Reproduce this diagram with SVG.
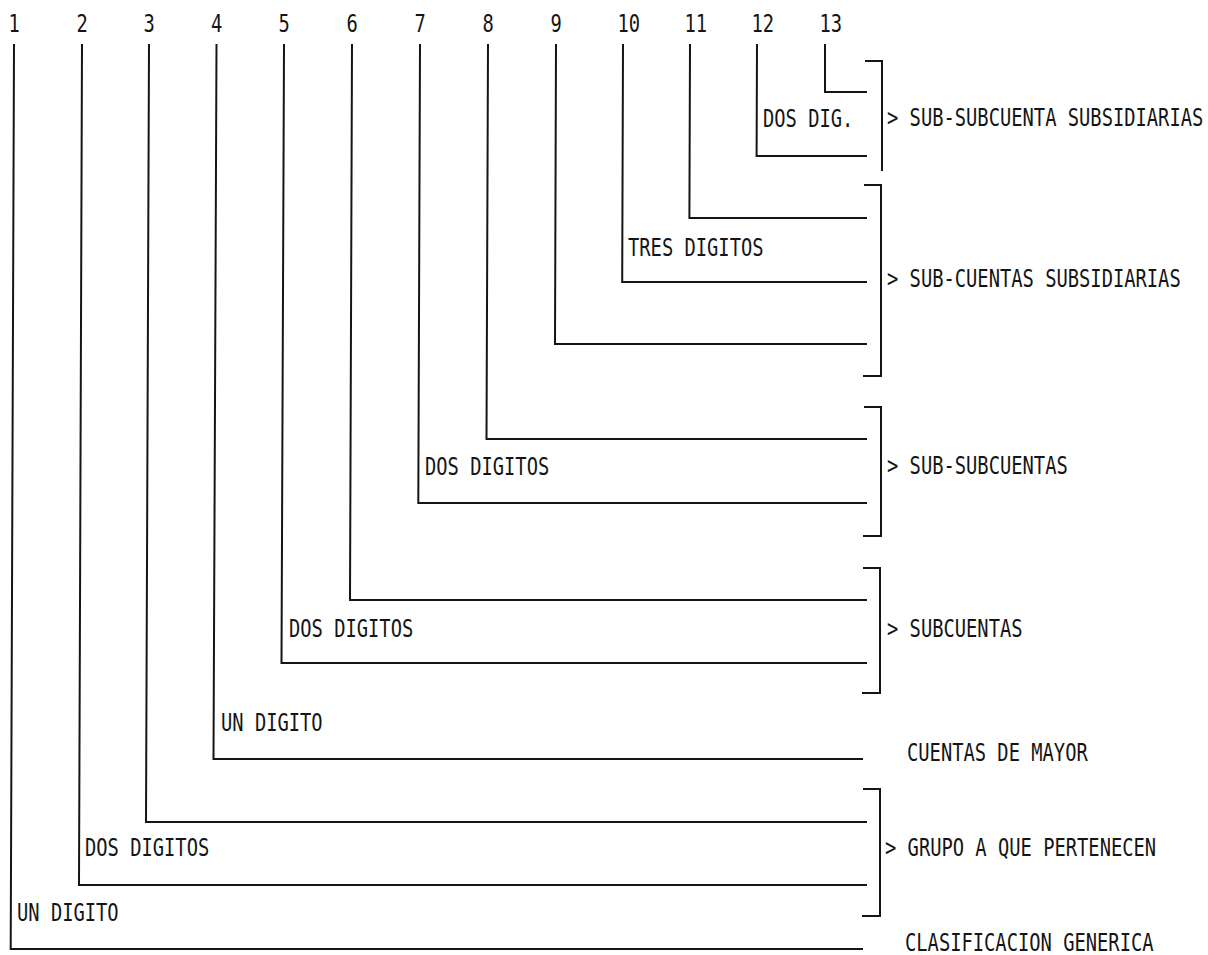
<svg xmlns="http://www.w3.org/2000/svg" width="1208" height="955" viewBox="0 0 1208 955">
<style>
  .t { font-family: "DejaVu Sans Mono", "Liberation Mono", monospace; font-size: 25px; fill: #151515; }
  .ln { fill: none; stroke: #151515; stroke-width: 2; stroke-linecap: square; stroke-linejoin: miter; }
</style>
<rect width="1208" height="955" fill="#ffffff"/>

<g id="connectors">
  <polyline class="ln" points="14,45 10.7,949 862,949"/>
  <polyline class="ln" points="82,45 79,885 866,885"/>
  <polyline class="ln" points="149,45 146,822 866,822"/>
  <polyline class="ln" points="216.5,45 213.5,759 862,759"/>
  <polyline class="ln" points="284,45 281.5,663 866,663"/>
  <polyline class="ln" points="352,45 350,600 866,600"/>
  <polyline class="ln" points="420,45 418.3,503 866,503"/>
  <polyline class="ln" points="488,45 486.5,439 866,439"/>
  <polyline class="ln" points="556,45 555,344 866,344"/>
  <polyline class="ln" points="623,45 622.2,282 866,282"/>
  <polyline class="ln" points="690,45 689.4,218 866,218"/>
  <polyline class="ln" points="757,45 756.6,156 866,156"/>
  <polyline class="ln" points="825,45 825,92 866,92"/>
  <path id="bracket-a" class="ln" d="M866,61 H882 V170"/>
  <path id="bracket-b" class="ln" d="M865,185 H881 V376 H864"/>
  <path id="bracket-c" class="ln" d="M865,407 H881 V536 H864"/>
  <path id="bracket-d" class="ln" d="M864,568 H880 V693 H863"/>
  <path id="bracket-e" class="ln" d="M864,789 H880 V916 H863"/>
</g>

<g id="col-1"><text class="t" transform="translate(8.4,32) scale(0.751,1)">1</text><text class="t" transform="translate(17,921) scale(0.751,1)">UN DIGITO</text></g>
<g id="col-2"><text class="t" transform="translate(76.4,32) scale(0.751,1)">2</text><text class="t" transform="translate(85,856) scale(0.751,1)">DOS DIGITOS</text></g>
<g id="col-3"><text class="t" transform="translate(143.4,32) scale(0.751,1)">3</text></g>
<g id="col-4"><text class="t" transform="translate(210.9,32) scale(0.751,1)">4</text><text class="t" transform="translate(221,731) scale(0.751,1)">UN DIGITO</text></g>
<g id="col-5"><text class="t" transform="translate(278.4,32) scale(0.751,1)">5</text><text class="t" transform="translate(289,637) scale(0.751,1)">DOS DIGITOS</text></g>
<g id="col-6"><text class="t" transform="translate(346.4,32) scale(0.751,1)">6</text></g>
<g id="col-7"><text class="t" transform="translate(414.4,32) scale(0.751,1)">7</text><text class="t" transform="translate(425,475) scale(0.751,1)">DOS DIGITOS</text></g>
<g id="col-8"><text class="t" transform="translate(482.4,32) scale(0.751,1)">8</text></g>
<g id="col-9"><text class="t" transform="translate(550.4,32) scale(0.751,1)">9</text></g>
<g id="col-10"><text class="t" transform="translate(617.4,32) scale(0.751,1)">10</text><text class="t" transform="translate(628,256) scale(0.751,1)">TRES DIGITOS</text></g>
<g id="col-11"><text class="t" transform="translate(684.4,32) scale(0.751,1)">11</text></g>
<g id="col-12"><text class="t" transform="translate(751.4,32) scale(0.751,1)">12</text><text class="t" transform="translate(763,127) scale(0.751,1)">DOS DIG.</text></g>
<g id="col-13"><text class="t" transform="translate(819.4,32) scale(0.751,1)">13</text></g>

<g id="cat-sub-subcuenta-subsidiarias"><text class="t" transform="translate(887,126) scale(0.751,1)">&gt; SUB-SUBCUENTA SUBSIDIARIAS</text></g>
<g id="cat-sub-cuentas-subsidiarias"><text class="t" transform="translate(887,287) scale(0.751,1)">&gt; SUB-CUENTAS SUBSIDIARIAS</text></g>
<g id="cat-sub-subcuentas"><text class="t" transform="translate(887,474) scale(0.751,1)">&gt; SUB-SUBCUENTAS</text></g>
<g id="cat-subcuentas"><text class="t" transform="translate(887,637) scale(0.751,1)">&gt; SUBCUENTAS</text></g>
<g id="cat-cuentas-de-mayor"><text class="t" transform="translate(907,761) scale(0.751,1)">CUENTAS DE MAYOR</text></g>
<g id="cat-grupo"><text class="t" transform="translate(885,856) scale(0.751,1)">&gt; GRUPO A QUE PERTENECEN</text></g>
<g id="cat-clasificacion"><text class="t" transform="translate(905,951) scale(0.751,1)">CLASIFICACION GENERICA</text></g>
</svg>
